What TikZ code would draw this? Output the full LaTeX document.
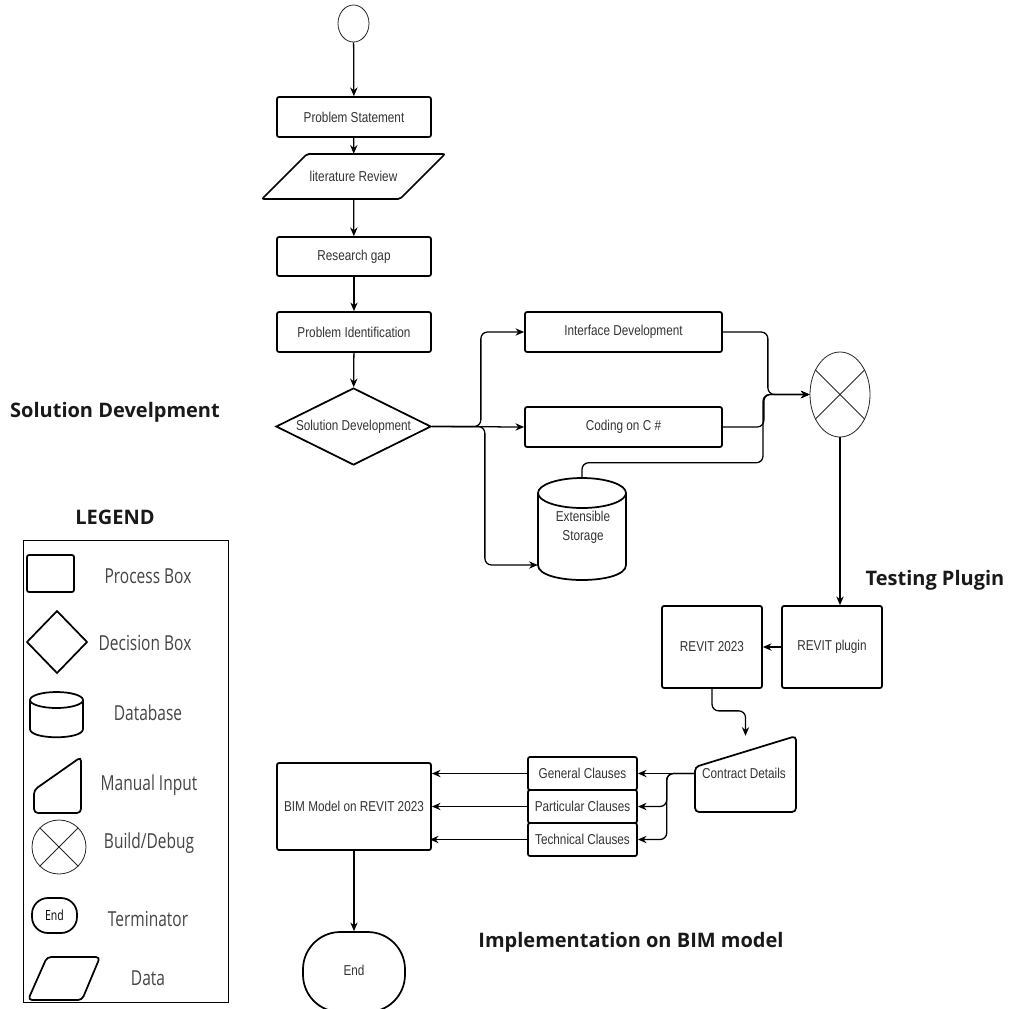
\documentclass[tikz,border=0pt]{standalone}
\usepackage{fontspec}
\setmainfont{Liberation Sans}
\newfontfamily\nf[FakeStretch=0.82]{Liberation Sans}
\newfontfamily\hf{Open Sans}
\newfontfamily\lf[FakeStretch=0.75]{Open Sans}
\usetikzlibrary{shapes.geometric,shapes.misc,arrows.meta}
\definecolor{txt}{HTML}{333333}
\definecolor{lgt}{HTML}{444444}
\begin{document}
\begin{tikzpicture}[x=0.75pt,y=-0.75pt,
  box/.style={draw, line width=1.3pt, rounded corners=1.5pt, fill=white, font=\nf\fontsize{10.75}{12}\selectfont, text=txt, inner sep=1pt, align=center},
  txtn/.style={font=\nf\fontsize{10.75}{12}\selectfont, text=txt, inner sep=1pt, align=center},
  shp/.style={draw, line width=1.3pt, rounded corners=1.5pt},
  thinshp/.style={draw, line width=0.6pt, draw=black!85},
  conn/.style={line width=0.95pt, -{Stealth[length=6.5pt,width=5.5pt]}, rounded corners=5pt},
  hd/.style={font=\hf\bfseries\fontsize{15}{18}\selectfont, text=black!90},
  lg/.style={font=\lf\fontsize{15.5}{18}\selectfont, text=lgt}]
\useasboundingbox (0,0) rectangle (1010,1008);

% ---------- main flow ----------
\node[thinshp, ellipse, fill=white, minimum width=23.25pt, minimum height=27.75pt, inner sep=0] (start) at (353.5,23.5) {};
\node[box, minimum width=115.5pt, minimum height=30pt] (ps) at (354,117) {Problem Statement};
\draw[shp] (262,199) -- (307,154) -- (445,154) -- (400,199) -- cycle;
\node[txtn, minimum width=137.25pt, minimum height=33.75pt] (lr) at (353.5,176.5) {literature Review};
\node[box, minimum width=115.5pt, minimum height=29.25pt] (rg) at (354,256.5) {Research gap};
\node[box, minimum width=115.5pt, minimum height=30pt] (pi) at (354,332) {Problem Identification};
\node[draw, diamond, aspect=2, line width=1.3pt, inner sep=0, minimum width=116.25pt, minimum height=57.75pt, font=\nf\fontsize{10.75}{12}\selectfont, text=txt] (sd) at (353.5,426.5) {Solution Development};

\node[box, minimum width=147.75pt, minimum height=30pt] (ifd) at (623.5,332) {Interface Development};
\node[box, minimum width=147.75pt, minimum height=30pt] (cod) at (623.5,427) {Coding on C \#};

% cylinder
\draw[shp, rounded corners=0pt] (538,493) -- (538,565) .. controls (538,585) and (626,585) .. (626,565) -- (626,493);
\draw[shp, rounded corners=0pt] (582,493) ellipse [x radius=44, y radius=15];
\node[txtn, minimum width=66pt, minimum height=76.5pt] (es) at (582,529) {};
\node[txtn] (esl) at (583,527) {Extensible\\[2pt]Storage};

% build / debug
\node[thinshp, ellipse, fill=white, minimum width=45pt, minimum height=63.75pt, inner sep=0] (bd) at (840,394.5) {};
\draw[line width=0.6pt, black!85] (bd.45) -- (bd.225) (bd.135) -- (bd.315);

\node[box, minimum width=75pt, minimum height=61.5pt] (pl) at (832,647) {REVIT plugin};
\node[box, minimum width=75pt, minimum height=61.5pt] (rv) at (712,647) {REVIT 2023};

% contract details (manual input)
\draw[shp, rounded corners=3pt] (695,767) -- (796,736) -- (796,812) -- (695,812) -- cycle;
\node[txtn, minimum width=75.75pt, minimum height=57pt] (cd) at (745.5,774) {};
\node[txtn] (cdl) at (744,773) {Contract Details};

\node[box, minimum width=81.75pt, minimum height=24.75pt] (gc) at (582.5,773.5) {General Clauses};
\node[box, minimum width=81.75pt, minimum height=24.75pt] (pc) at (582.5,806.5) {Particular Clauses};
\node[box, minimum width=81.75pt, minimum height=24.75pt] (tc) at (582.5,839.5) {Technical Clauses};

\node[box, minimum width=115.5pt, minimum height=65.25pt] (bim) at (354,806.5) {BIM Model on REVIT 2023};
\node[box, rounded corners=28pt, minimum width=76.5pt, minimum height=60pt] (end) at (354,972) {};
\node[txtn] (endl) at (354,970) {End};

% ---------- connectors ----------
\draw[conn] (start) -- (ps);
\draw[conn] (ps) -- (lr);
\draw[conn] (lr) -- (rg);
\draw[conn] (rg) -- (pi);
\draw[conn] (pi) -- (sd);
\draw[conn] (sd.east) -- ++(49,0) |- (ifd.west);
\draw[conn] (sd.east) -- (cod.west);
\draw[conn] (sd.east) -- ++(53,0) |- ([yshift=-27pt]es.west);
\draw[conn] (ifd.east) -- ++(45,0) |- (bd.west);
\draw[conn] (cod.east) -- ++(41,0) |- (bd.west);
\draw[conn] (es.north) -- ++(0,-15) -- ++(181,0) |- (bd.west);
\draw[conn] (bd.south) -- (bd.south |- pl.north);
\draw[conn] (pl.west) -- (rv.east);
\draw[conn] (rv.south) -- ++(0,22) -| (cd.north);
\draw[conn] (cd.west |- gc.east) -- (gc.east);
\draw[conn] (cd.west |- gc.east) -- ++(-28,0) |- (pc.east);
\draw[conn] (cd.west |- gc.east) -- ++(-28,0) |- (tc.east);
\draw[conn] (gc.west) -- (gc.west -| bim.east);
\draw[conn] (pc.west) -- (pc.west -| bim.east);
\draw[conn] (tc.west) -- ([xshift=-1.5pt]tc.west -| bim.east);
\draw[conn] (bim.south) -- (end.north);

% ---------- headings ----------
\node[hd] (h1) at (115,412) {Solution Develpment};
\node[hd] (h2) at (115,517) {LEGEND};
\node[hd] (h3) at (935,580) {Testing Plugin};
\node[hd] (h4) at (631,942) {Implementation on BIM model};

% ---------- legend ----------
\node[draw, line width=0.6pt, minimum width=153.75pt, minimum height=346.5pt] (lgbox) at (125.5,771) {};
\node[shp, minimum width=35.25pt, minimum height=27.75pt] (lgp) at (50.5,573.5) {};
\node[lg] (l1) at (148,576) {Process Box};
\draw[shp, rounded corners=0pt] (27,642) -- (57,611) -- (87,642) -- (57,673) -- cycle;
\node[lg] (l2) at (145,643) {Decision Box};
\draw[shp, rounded corners=0pt] (30,700) -- (30,729) .. controls (30,740) and (83,740) .. (83,729) -- (83,700);
\draw[shp, rounded corners=0pt] (56.5,700) ellipse [x radius=26.5, y radius=8];
\node[lg] (l3) at (148,713) {Database};
\draw[shp, rounded corners=3pt] (34,790) -- (81,757) -- (81,813) -- (34,813) -- cycle;
\node[lg] (l4) at (149,785) {Manual Input};
\node[thinshp, circle, minimum size=40.5pt, inner sep=0] (lgc) at (59,847) {};
\draw[line width=0.6pt, black!85] (lgc.45) -- (lgc.225) (lgc.135) -- (lgc.315);
\node[lg] (l5) at (149,843) {Build/Debug};
\node[shp, rounded corners=12pt, minimum width=33.75pt, minimum height=26.25pt, inner sep=0, font=\lf\fontsize{10.5}{12}\selectfont, text=black] (lgt) at (54.5,915.5) {End};
\node[lg] (l6) at (148,919) {Terminator};
\draw[shp, rounded corners=3pt] (28,1000) -- (47,957) -- (100,957) -- (82,1000) -- cycle;
\node[lg] (l7) at (148,978) {Data};
\end{tikzpicture}
\end{document}
